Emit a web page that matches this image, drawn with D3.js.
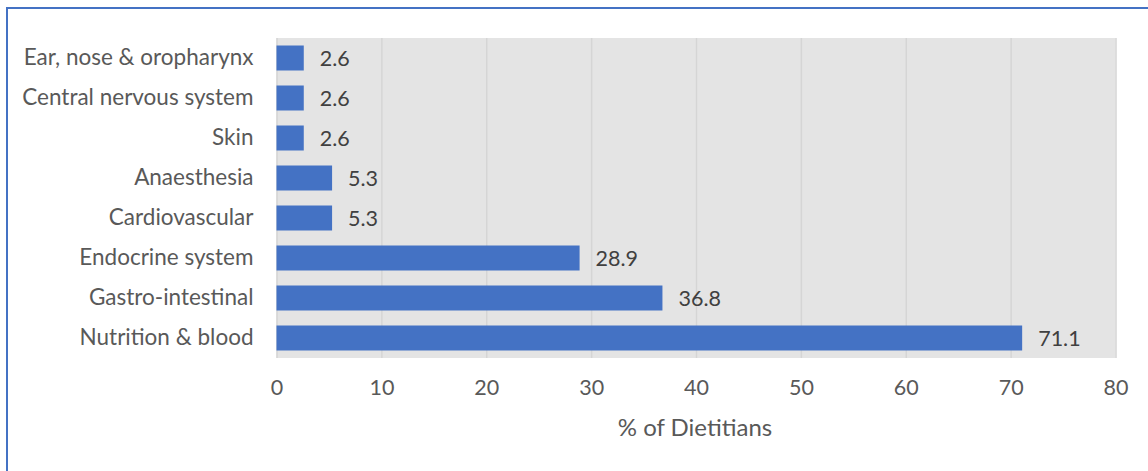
<!DOCTYPE html>
<html>
<head>
<meta charset="utf-8">
<script src="https://cdn.jsdelivr.net/npm/d3@7"></script>
<style>
  html, body { margin: 0; padding: 0; background: #fff; }
  svg { display: block; font-family: Lato, "Open Sans", sans-serif; }
</style>
</head>
<body>
<svg id="chart" width="1148" height="471"></svg>
<script>
// Therapeutic areas, listed top to bottom
const categories = [
  "Ear, nose & oropharynx",
  "Central nervous system",
  "Skin",
  "Anaesthesia",
  "Cardiovascular",
  "Endocrine system",
  "Gastro-intestinal",
  "Nutrition & blood"
];
// Share of dietitians (%) for each area
const percentValues = [2.6, 2.6, 2.6, 5.3, 5.3, 28.9, 36.8, 71.1];
const xTicks = [0, 10, 20, 30, 40, 50, 60, 70, 80];
const xTitle = "% of Dietitians";

const data = categories.map((c, i) => ({ category: c, value: percentValues[i] }));

const svg = d3.select("#chart");
const W = 1148, H = 471;
const plot = { left: 276.5, right: 1115.5, top: 38, bottom: 358 };

// Outer frame
svg.append("rect")
  .attr("x", 7).attr("y", 8)
  .attr("width", W + 20).attr("height", H + 20)
  .attr("fill", "#fff")
  .attr("stroke", "#4472C4")
  .attr("stroke-width", 2);

const x = d3.scaleLinear().domain([0, 80]).range([plot.left, plot.right]);
const y = d3.scaleBand().domain(categories)
  .range([plot.top, plot.bottom])
  .paddingInner(0.375).paddingOuter(0.1875);

// Plot background
svg.append("rect")
  .attr("x", plot.left).attr("y", plot.top)
  .attr("width", plot.right - plot.left)
  .attr("height", plot.bottom - plot.top)
  .attr("fill", "#E4E4E4");

// Vertical gridlines
svg.append("g")
  .attr("transform", `translate(0,${plot.bottom})`)
  .call(d3.axisBottom(x).tickValues(xTicks).tickSize(-(plot.bottom - plot.top)).tickFormat(""))
  .call(g => g.select(".domain").remove())
  .call(g => g.selectAll(".tick line").attr("stroke", "#D5D5D5").attr("stroke-width", 1.5));

// Bars
svg.append("g").selectAll("rect")
  .data(data)
  .join("rect")
  .attr("x", x(0))
  .attr("y", d => y(d.category))
  .attr("width", d => x(d.value) - x(0))
  .attr("height", y.bandwidth())
  .attr("fill", "#4472C4");

// Value labels
svg.append("g").selectAll("text")
  .data(data)
  .join("text")
  .attr("x", d => x(d.value) + 16)
  .attr("y", d => y(d.category) + y.bandwidth() / 2)
  .attr("dy", "0.36em")
  .attr("fill", "#404040")
  .attr("font-size", 21.5)
  .text(d => d.value.toFixed(1));

// Category axis labels
svg.append("g")
  .attr("transform", `translate(${plot.left},0)`)
  .call(d3.axisLeft(y).tickSize(0).tickPadding(23))
  .call(g => g.select(".domain").remove())
  .call(g => g.selectAll(".tick text")
    .attr("fill", "#595959")
    .attr("font-size", 22.5)
    .attr("font-family", "Lato, 'Open Sans', sans-serif"));

// Value axis tick labels
svg.append("g")
  .attr("transform", `translate(0,${plot.bottom})`)
  .call(d3.axisBottom(x).tickValues(xTicks).tickSize(0).tickPadding(22))
  .call(g => g.select(".domain").remove())
  .call(g => g.selectAll(".tick text")
    .attr("fill", "#595959")
    .attr("font-size", 21.5)
    .attr("font-family", "Lato, 'Open Sans', sans-serif"));

// Axis title
svg.append("text")
  .attr("x", 695)
  .attr("y", 436)
  .attr("text-anchor", "middle")
  .attr("fill", "#595959")
  .attr("font-size", 24)
  .text(xTitle);
</script>
</body>
</html>
